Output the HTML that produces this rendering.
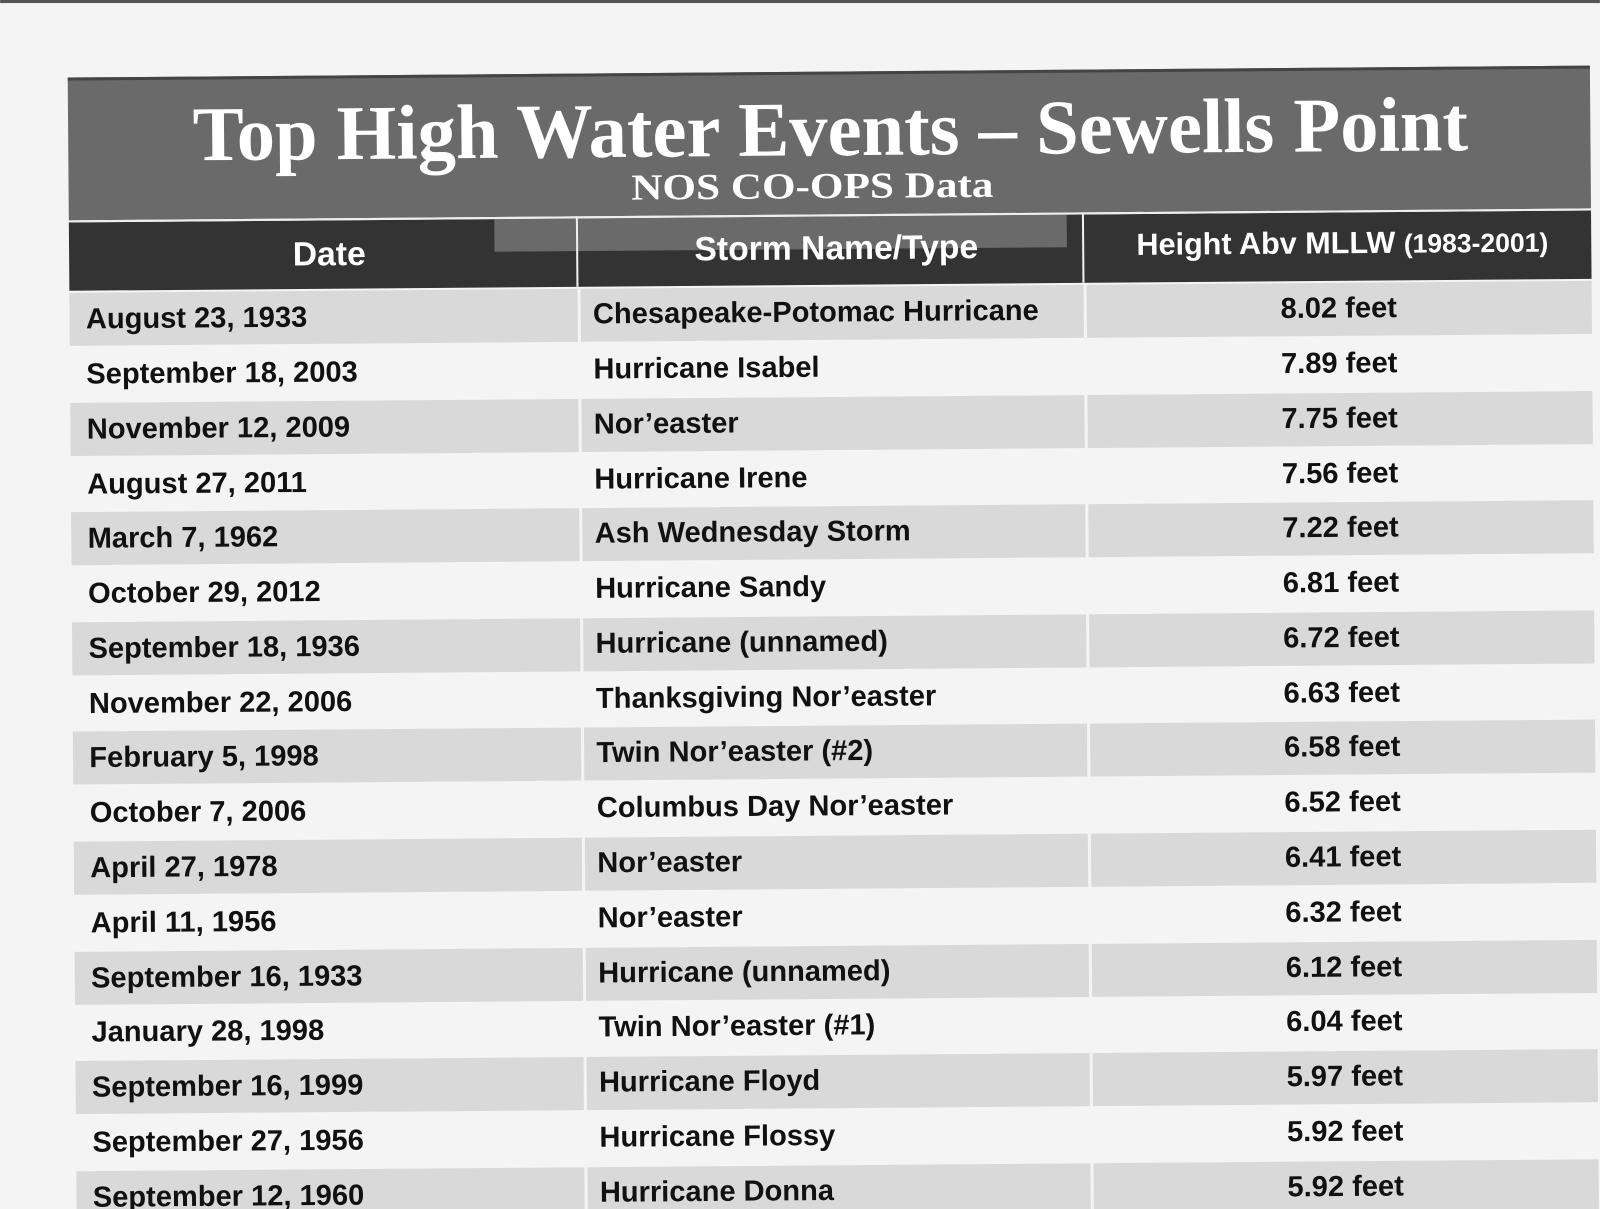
<!DOCTYPE html>
<html><head><meta charset="utf-8"><style>
html,body{margin:0;padding:0;background:#f4f4f4;}
svg{display:block}
.t{font-family:"Liberation Sans",sans-serif;font-weight:bold;font-size:28.5px;fill:#111}
.h{font-family:"Liberation Sans",sans-serif;font-weight:bold;fill:#fff}
</style></head><body>
<svg width="1600" height="1209" viewBox="0 0 1568 1185" xmlns="http://www.w3.org/2000/svg">
<rect width="1568" height="1185" fill="#f4f4f4"/>
<rect x="0" y="0" width="1568" height="3" fill="#555"/>
<g transform="rotate(-0.45 68 300)">
<rect x="68" y="76" width="1492" height="140" fill="#6a6a6a"/>
<rect x="68" y="76" width="1492" height="3" fill="#444"/>
<text x="815" y="158" text-anchor="middle" class="h" style="font-family:'Liberation Serif',serif;font-size:76px" textLength="1250" lengthAdjust="spacingAndGlyphs">Top High Water Events – Sewells Point</text>
<text x="797" y="200" text-anchor="middle" class="h" style="font-family:'Liberation Serif',serif;font-size:36px" textLength="355" lengthAdjust="spacingAndGlyphs">NOS CO-OPS  Data</text>
<rect x="68" y="218" width="1492" height="67" fill="#333"/>
<rect x="485" y="218" width="81" height="32" fill="#6a6a6a"/>
<rect x="566" y="218" width="480" height="32" fill="#6a6a6a"/>
<rect x="68" y="216" width="1492" height="2" fill="#eee"/>
<rect x="565" y="216" width="2" height="69" fill="#eee"/>
<rect x="1061" y="216" width="2" height="69" fill="#eee"/>
<text x="323" y="262" text-anchor="middle" class="h" style="font-size:33px">Date</text>
<text x="820" y="260" text-anchor="middle" class="h" style="font-size:33px">Storm Name/Type</text>
<text x="1316" y="258" text-anchor="middle" class="h" style="font-size:30px">Height Abv MLLW <tspan style="font-size:26px">(1983-2001)</tspan></text>
<g id="rows">
<rect x="68" y="287" width="1492" height="52" fill="#d9d9d9"/>
<rect x="68" y="395" width="1492" height="52" fill="#d9d9d9"/>
<rect x="68" y="502" width="1492" height="52" fill="#d9d9d9"/>
<rect x="68" y="610" width="1492" height="52" fill="#d9d9d9"/>
<rect x="68" y="717" width="1492" height="52" fill="#d9d9d9"/>
<rect x="68" y="825" width="1492" height="52" fill="#d9d9d9"/>
<rect x="68" y="933" width="1492" height="52" fill="#d9d9d9"/>
<rect x="68" y="1040" width="1492" height="52" fill="#d9d9d9"/>
<rect x="68" y="1148" width="1492" height="52" fill="#d9d9d9"/>
<rect x="566" y="287" width="3" height="920" fill="#f4f4f4"/>
<rect x="1062" y="287" width="3" height="920" fill="#f4f4f4"/>
</g>
<g class="t">
<text x="84" y="322">August 23, 1933</text><text x="581" y="321">Chesapeake-Potomac Hurricane</text><text x="1312" y="321" text-anchor="middle">8.02 feet</text>
<text x="84" y="376">September 18, 2003</text><text x="581" y="375">Hurricane Isabel</text><text x="1312" y="375" text-anchor="middle">7.89 feet</text>
<text x="84" y="430">November 12, 2009</text><text x="581" y="429">Nor’easter</text><text x="1312" y="429" text-anchor="middle">7.75 feet</text>
<text x="84" y="484">August  27, 2011</text><text x="581" y="483">Hurricane Irene</text><text x="1312" y="483" text-anchor="middle">7.56 feet</text>
<text x="84" y="537">March 7, 1962</text><text x="581" y="536">Ash Wednesday Storm</text><text x="1312" y="536" text-anchor="middle">7.22 feet</text>
<text x="84" y="591">October 29, 2012</text><text x="581" y="590">Hurricane Sandy</text><text x="1312" y="590" text-anchor="middle">6.81 feet</text>
<text x="84" y="645">September 18, 1936</text><text x="581" y="644">Hurricane (unnamed)</text><text x="1312" y="644" text-anchor="middle">6.72 feet</text>
<text x="84" y="699">November 22, 2006</text><text x="581" y="698">Thanksgiving Nor’easter</text><text x="1312" y="698" text-anchor="middle">6.63 feet</text>
<text x="84" y="752">February 5, 1998</text><text x="581" y="751">Twin Nor’easter (#2)</text><text x="1312" y="751" text-anchor="middle">6.58 feet</text>
<text x="84" y="806">October 7, 2006</text><text x="581" y="805">Columbus Day Nor’easter</text><text x="1312" y="805" text-anchor="middle">6.52 feet</text>
<text x="84" y="860">April 27, 1978</text><text x="581" y="859">Nor’easter</text><text x="1312" y="859" text-anchor="middle">6.41 feet</text>
<text x="84" y="914">April 11, 1956</text><text x="581" y="913">Nor’easter</text><text x="1312" y="913" text-anchor="middle">6.32 feet</text>
<text x="84" y="968">September 16, 1933</text><text x="581" y="967">Hurricane (unnamed)</text><text x="1312" y="967" text-anchor="middle">6.12 feet</text>
<text x="84" y="1021">January 28, 1998</text><text x="581" y="1020">Twin Nor’easter (#1)</text><text x="1312" y="1020" text-anchor="middle">6.04 feet</text>
<text x="84" y="1075">September 16, 1999</text><text x="581" y="1074">Hurricane Floyd</text><text x="1312" y="1074" text-anchor="middle">5.97 feet</text>
<text x="84" y="1129">September 27, 1956</text><text x="581" y="1128">Hurricane Flossy</text><text x="1312" y="1128" text-anchor="middle">5.92 feet</text>
<text x="84" y="1183">September 12, 1960</text><text x="581" y="1182">Hurricane Donna</text><text x="1312" y="1182" text-anchor="middle">5.92 feet</text>
</g>
</g>
</svg>
</body></html>
